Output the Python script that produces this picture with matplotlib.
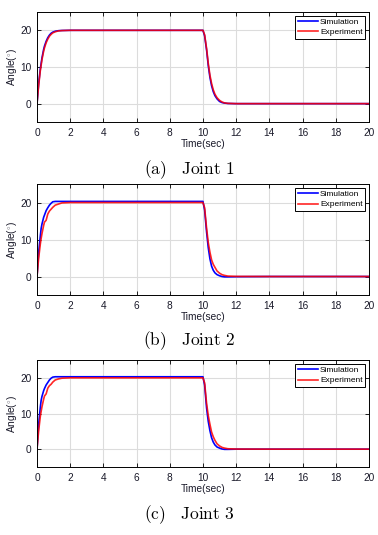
import matplotlib
matplotlib.use("Agg")
import matplotlib.pyplot as plt
import numpy as np

plt.rcParams['font.family'] = ['Liberation Sans', 'DejaVu Sans']
plt.rcParams['mathtext.fontset'] = 'cm'

# ---- data ----
t = [0.0, 0.1, 0.2, 0.25, 0.3, 0.4, 0.45, 0.55, 0.65, 0.75, 0.85, 0.95, 1.1, 1.3, 1.5, 2.0, 4.0, 6.0, 8.0, 10.0,
     10.1, 10.22, 10.32, 10.42, 10.52, 10.62, 10.72, 10.85, 11.0, 11.15, 11.3, 11.5, 12.0, 14.0, 16.0, 18.0, 20.0]

sim1 = [0.0, 5.5, 9.5, 11.0, 12.5, 14.8, 15.7, 17.0, 18.0, 18.7, 19.2, 19.5, 19.75, 19.9, 19.95, 20.0, 20.0, 20.0, 20.0, 20.0,
        18.5, 14.6, 10.4, 7.2, 4.9, 3.3, 2.2, 1.3, 0.6, 0.3, 0.15, 0.05, 0.0, 0.0, 0.0, 0.0, 0.0]
exp1 = [0.0, 5.0, 9.0, 10.5, 12.0, 14.3, 15.2, 16.6, 17.6, 18.4, 18.9, 19.3, 19.6, 19.85, 19.93, 20.0, 20.0, 20.0, 20.0, 20.0,
        18.8, 15.0, 11.0, 7.8, 5.5, 3.8, 2.6, 1.6, 0.9, 0.45, 0.2, 0.08, 0.0, 0.0, 0.0, 0.0, 0.0]

sim2 = [0.0, 6.5, 11.0, 13.0, 14.2, 16.0, 16.6, 17.8, 18.6, 19.3, 19.8, 20.2, 20.3, 20.3, 20.3, 20.3, 20.3, 20.3, 20.3, 20.3,
        18.0, 12.0, 7.8, 4.8, 2.8, 1.7, 1.0, 0.5, 0.2, 0.0, -0.1, -0.1, -0.05, 0.0, 0.0, 0.0, 0.0]
exp2 = [0.0, 5.0, 8.8, 10.3, 11.6, 13.8, 14.7, 15.2, 16.9, 17.7, 18.2, 18.7, 19.3, 19.6, 19.9, 20.0, 20.0, 20.0, 20.0, 20.0,
        18.6, 13.0, 9.2, 6.6, 4.5, 3.3, 2.5, 1.5, 0.9, 0.5, 0.3, 0.12, 0.03, 0.0, 0.0, 0.0, 0.0]

sim3 = [0.0, 7.0, 11.8, 13.7, 14.8, 16.4, 17.0, 18.0, 18.7, 19.4, 19.9, 20.2, 20.3, 20.3, 20.3, 20.3, 20.3, 20.3, 20.3, 20.3,
        18.0, 11.5, 7.8, 5.2, 3.2, 2.0, 1.2, 0.6, 0.3, 0.05, -0.05, -0.05, 0.0, 0.0, 0.0, 0.0, 0.0]
exp3 = [0.0, 5.2, 9.2, 10.6, 11.9, 14.0, 14.9, 15.5, 17.1, 17.8, 18.2, 18.8, 19.4, 19.7, 19.9, 20.0, 20.0, 20.0, 20.0, 20.0,
        18.6, 12.8, 9.4, 7.0, 4.8, 3.5, 2.5, 1.5, 0.9, 0.5, 0.3, 0.12, 0.03, 0.0, 0.0, 0.0, 0.0]

panels = [(sim1, exp1, r'$\mathrm{(a)\quad Joint\ 1}$'),
          (sim2, exp2, r'$\mathrm{(b)\quad Joint\ 2}$'),
          (sim3, exp3, r'$\mathrm{(c)\quad Joint\ 3}$')]

xticks = list(range(0, 21, 2))
yticks = [0, 10, 20]

fig = plt.figure(figsize=(3.78, 5.35), dpi=100)
boxes = [(0.0979, 0.772, 0.878, 0.2056),
         (0.0979, 0.4486, 0.878, 0.2074),
         (0.0979, 0.1271, 0.878, 0.2)]
cap_y = [170, 341, 515]

for (sim, exp_, cap), box, cy in zip(panels, boxes, cap_y):
    ax = fig.add_axes(box)
    ax.plot(t, sim, color='#0000ff', lw=1.2, label='Simulation')
    ax.plot(t, exp_, color='#ff0000', lw=1.2, alpha=0.85, label='Experiment')
    ax.set_xlim(0, 20)
    ax.set_ylim(-5, 25)
    ax.set_xticks(xticks)
    ax.set_yticks(yticks)
    ax.grid(True, color='#dcdcdc', lw=0.8)
    ax.set_axisbelow(True)
    ax.tick_params(direction='in', length=3, width=0.6, labelsize=7.3, top=True, right=True, pad=4,
                   labelcolor='#1a1a2a')
    for s in ax.spines.values():
        s.set_linewidth(0.7)
    ax.set_xlabel('Time(sec)', fontsize=7.3, labelpad=1, color='#1a1a2a')
    ax.set_ylabel('Angle($^{\\circ}$)', fontsize=7.3, labelpad=1, color='#1a1a2a')
    leg = ax.legend(loc='upper right', fontsize=6, frameon=True, fancybox=False,
                    edgecolor='black', framealpha=1, borderpad=0.3, handlelength=2.5,
                    handletextpad=0.2, labelspacing=0.3, borderaxespad=0.45)
    leg.get_frame().set_linewidth(0.7)
    fig.text(0.5, 1 - cy / 535, cap, ha='center', va='center', fontsize=12.5)

fig.savefig('out.png', dpi=100)
